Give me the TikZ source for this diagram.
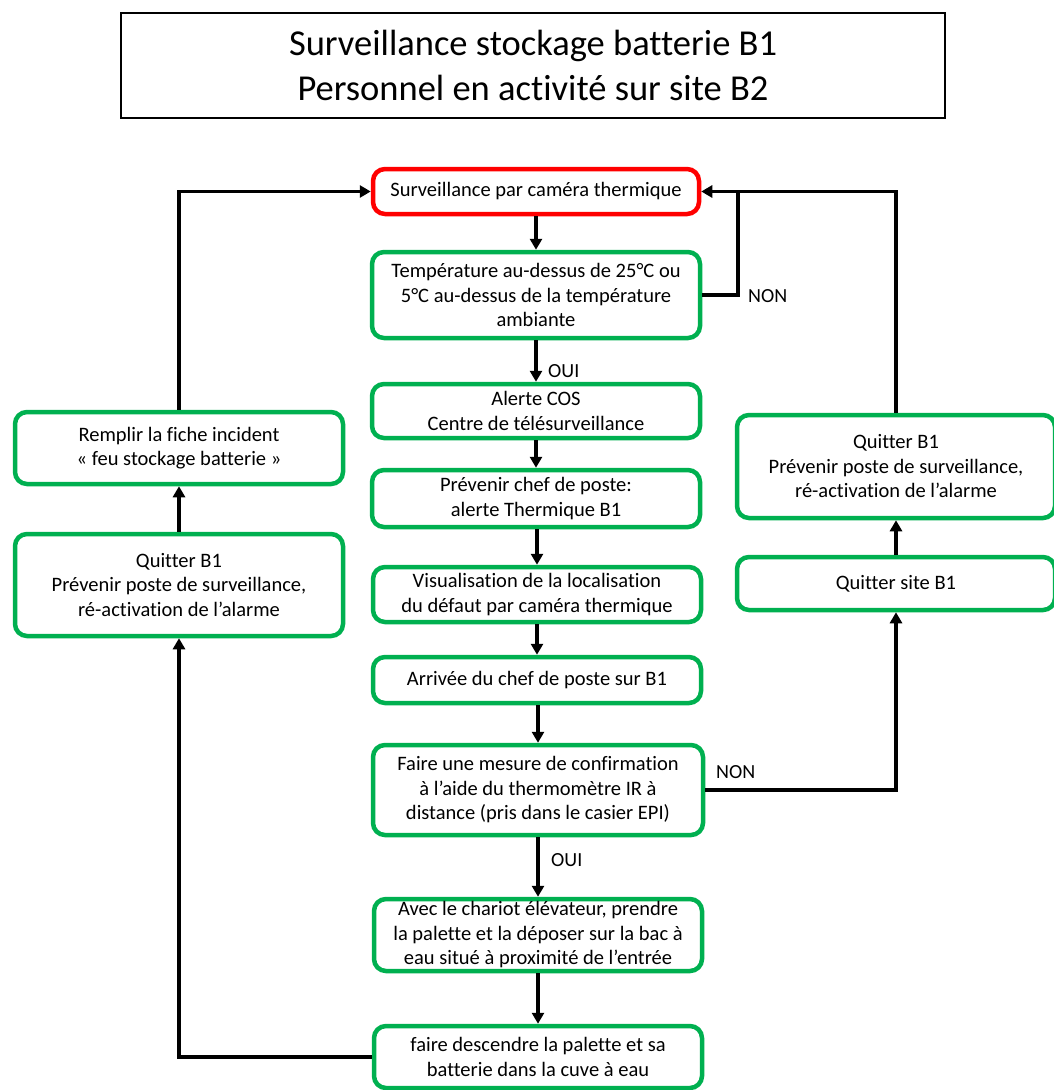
\documentclass[tikz,border=0pt]{standalone}
\usepackage{fontspec}
\setmainfont[Ligatures={NoCommon}]{Carlito}
\usetikzlibrary{arrows.meta,positioning}
\definecolor{boxgreen}{HTML}{00B050}
\definecolor{boxred}{HTML}{FF0000}
\tikzset{
  gbox/.style={draw=boxgreen, line width=4.5pt, rounded corners=12pt, fill=white,
    align=center, inner sep=0pt, font=\fontsize{20.5}{24.5}\selectfont},
  rbox/.style={gbox, draw=boxred},
  conn/.style={line width=3.5pt, draw=black},
  arr/.style={conn, -{Triangle[length=11pt,width=12pt]}},
  lbl/.style={font=\fontsize{20}{24}\selectfont, anchor=west, inner sep=0pt},
}
\begin{document}
\begin{tikzpicture}[x=1pt,y=-1pt]
\useasboundingbox (0,0) rectangle (1054,1090);
% title
\node[draw=black, line width=1.5pt, minimum width=824pt, minimum height=105pt, align=center,
  font=\fontsize{36.5}{45}\selectfont, inner sep=0pt] (title) at (533,65.5)
  {Surveillance stockage batterie B1\\Personnel en activité sur site B2};
% central column
\node[rbox, minimum width=326pt, minimum height=45pt] (S1) at (536,191.5) {Surveillance par caméra thermique};
\node[gbox, minimum width=328pt, minimum height=86pt] (S2) at (536,295) {Température au-dessus de 25°C ou\\5°C au-dessus de la température\\ambiante};
\node[gbox, minimum width=328pt, minimum height=54pt] (S3) at (536,411) {Alerte COS\\Centre de télésurveillance};
\node[gbox, minimum width=328pt, minimum height=57pt] (S4) at (536,498.5) {Prévenir chef de poste:\\alerte Thermique B1};
\node[gbox, minimum width=328pt, minimum height=55pt] (S5) at (537,594.5) {Visualisation de la localisation\\du défaut par caméra thermique};
\node[gbox, minimum width=328pt, minimum height=46pt] (S6) at (537,680) {Arrivée du chef de poste sur B1};
\node[gbox, minimum width=330pt, minimum height=90pt] (S7) at (538,790) {Faire une mesure de confirmation\\à l’aide du thermomètre IR à\\distance (pris dans le casier EPI)};
\node[gbox, minimum width=328pt, minimum height=72pt] (S8) at (538,935) {Avec le chariot élévateur, prendre\\la palette et la déposer sur la bac à\\eau situé à proximité de l’entrée};
\node[gbox, minimum width=328pt, minimum height=62pt] (S9) at (538,1057) {faire descendre la palette et sa\\batterie dans la cuve à eau};
% left column
\node[gbox, minimum width=328pt, minimum height=72pt] (L1) at (179,448) {Remplir la fiche incident\\« feu stockage batterie »};
\node[gbox, minimum width=328pt, minimum height=102pt] (L2) at (179,585) {Quitter B1\\Prévenir poste de surveillance,\\ré-activation de l’alarme};
% right column
\node[gbox, minimum width=318pt, minimum height=103pt] (R1) at (896,466.5) {Quitter B1\\Prévenir poste de surveillance,\\ré-activation de l’alarme};
\node[gbox, minimum width=318pt, minimum height=53pt] (R2) at (896,583.5) {Quitter site B1};
% junction
\coordinate (J) at (738,191.5);
% connectors
\draw[arr] (S1.south) -- (S2.north);
\draw[arr] (S2.south) -- (S3.north);
\draw[arr] (S3.south) -- (S4.north);
\draw[arr] (S4.south -| S5.north) -- (S5.north);
\draw[arr] (S5.south) -- (S6.north);
\draw[arr] (S6.south -| S7.north) -- (S7.north);
\draw[arr] (S7.south) -- (S8.north);
\draw[arr] (S8.south) -- (S9.north);
\draw[arr] (S2.east) -| (J) -- (S1.east);
\draw[conn] (R1.north) |- (J);
\draw[arr] (S7.east) -| (R2.south);
\draw[arr] (R2.north) -- (R1.south);
\draw[arr] (S9.west) -| (L2.south);
\draw[arr] (L2.north) -- (L1.south);
\draw[arr] (L1.north) |- (S1.west);
% labels
\node[lbl] (n1) at (748,296) {NON};
\node[lbl] (o1) at (548,371) {OUI};
\node[lbl] (n2) at (716,772) {NON};
\node[lbl] (o2) at (551,860) {OUI};
\end{tikzpicture}
\end{document}
